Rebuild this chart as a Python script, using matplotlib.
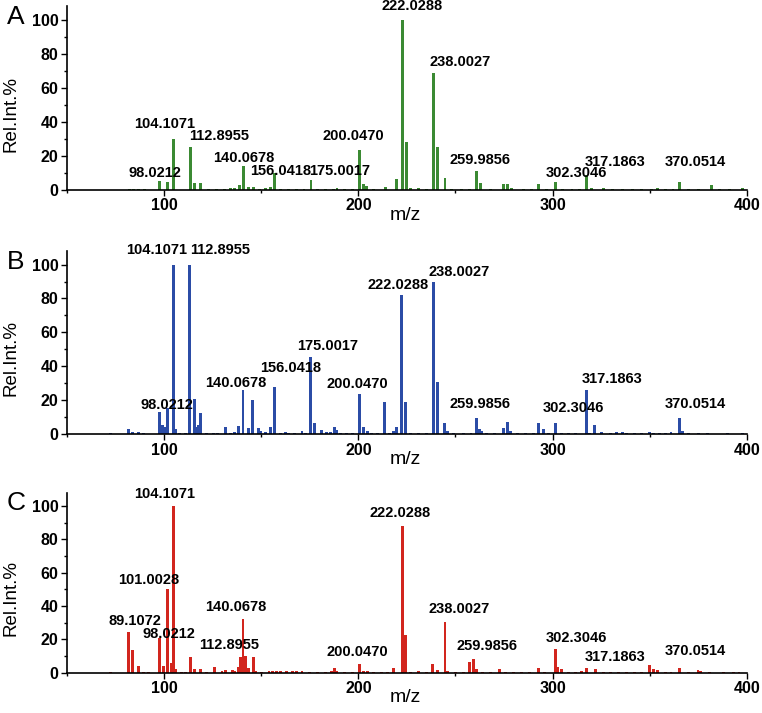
import matplotlib
matplotlib.use("Agg")
import matplotlib.pyplot as plt
from matplotlib.ticker import MultipleLocator

plt.rcParams["font.family"] = ["Liberation Sans", "DejaVu Sans"]

# ─── Data (m/z, relative intensity %) ─────────────────────────────────────────

mz_a = [82, 84, 87, 90, 97.8, 101.9, 104.8, 113.5, 115.8, 118.9, 123, 127, 131,
        134, 136, 138.7, 140.8, 143.5, 146, 149, 152, 154.6, 156.9, 160, 164,
        168, 172, 175.6, 179, 183, 187, 189, 193, 197, 200.6, 202.8, 204, 208,
        213.8, 219.5, 222.7, 224.6, 227, 231, 235, 238.7, 240.7, 244.6, 248,
        253, 257, 260.6, 262.8, 268, 274.8, 276.9, 279, 285, 289, 292.8, 297,
        301.7, 305, 310, 314, 317.6, 320, 326, 331, 336, 341, 346, 351, 354,
        358, 362, 365.6, 370, 375, 381.7, 386, 391, 398]
int_a = [0.5, 0.4, 0.5, 0.4, 5.3, 4.5, 29.7, 25.0, 4.0, 4.0, 0.5, 0.6, 0.8,
         1.0, 1.2, 2.8, 14.1, 1.5, 1.6, 0.8, 1.0, 1.5, 9.8, 0.5, 0.5,
         0.6, 0.5, 6.0, 0.5, 0.4, 0.8, 1.0, 0.5, 0.5, 23.4, 3.7, 2.5, 0.6,
         2.0, 6.3, 100.0, 27.9, 1.0, 1.0, 0.5, 68.8, 25.3, 6.9, 0.5,
         0.4, 0.5, 11.4, 3.9, 0.5, 3.5, 3.5, 1.0, 0.5, 0.6, 3.3, 0.5,
         4.5, 0.8, 0.5, 0.6, 8.6, 1.0, 1.0, 0.6, 0.8, 0.7, 0.6, 0.8, 1.0,
         0.7, 0.6, 4.5, 0.6, 0.5, 3.0, 0.4, 0.5, 1.0]

mz_b = [72.4, 81.5, 83.5, 86.6, 89.5, 97.6, 99.3, 100.3, 101.7, 104.6, 105.8,
        108, 111, 113.2, 115.6, 116.6, 117.8, 118.7, 122, 125.5, 127.5, 131.5,
        134, 136, 138.4, 140.6, 143.5, 145.4, 148.7, 149.8, 152, 154.7, 156.7,
        160, 162.4, 164, 167, 171, 173, 175.2, 177.5, 181.2, 183.5, 185.5,
        187.6, 189, 191, 194, 197, 200.6, 202.7, 204.7, 207, 210, 213.3, 216,
        218, 219.5, 222.4, 224.1, 227, 231, 235, 238.7, 240.7, 244.3, 246,
        249, 254, 258, 260.6, 262.6, 263.5, 266, 270, 274.9, 276.6, 278.5,
        282, 286, 290, 292.7, 295.4, 298, 301.6, 304.6, 308, 312, 317.5, 319,
        321.5, 325.3, 330, 333, 336, 338, 342, 346, 350, 352, 355, 358, 361,
        365.5, 367, 370, 375, 380, 385, 390, 398]
int_b = [0.5, 2.8, 1.5, 1.5, 0.8, 13.0, 5.3, 4.0, 15.7, 100.0, 2.8,
         0.5, 0.5, 100.0, 21.0, 4.0, 5.5, 12.6, 0.5, 1.0, 0.8, 4.0,
         1.0, 1.2, 5.0, 26.0, 3.5, 20.0, 3.5, 2.0, 1.5, 4.0, 27.6,
         0.5, 1.5, 1.0, 1.0, 2.0, 1.0, 45.7, 6.9, 2.4, 1.5, 1.2,
         4.0, 2.5, 1.0, 0.5, 0.5, 23.6, 4.0, 2.0, 0.8, 0.5, 18.7, 0.8,
         2.0, 4.5, 82.0, 19.1, 0.5, 1.0, 0.5, 90.0, 31.0, 6.9, 2.0,
         0.5, 0.5, 1.0, 9.8, 3.3, 2.0, 0.5, 0.5, 3.5, 7.3, 2.0,
         0.5, 0.5, 0.6, 6.9, 3.3, 0.5, 6.7, 1.0, 0.5, 0.5, 26.0, 1.0,
         5.3, 1.5, 0.6, 1.2, 1.2, 0.8, 0.6, 0.6, 1.2, 1.0, 1.0, 0.6, 1.5,
         9.3, 2.0, 0.6, 0.5, 0.5, 0.4, 0.5, 1.0]

mz_c = [72.4, 81.7, 83.5, 86.6, 89.5, 92, 97.6, 99.8, 101.5, 103.6, 104.8,
        105.8, 109, 111, 113.5, 115.8, 118.9, 122, 125.7, 129.8, 131.8, 135.2,
        136.5, 138.4, 139.4, 140.6, 142, 143.5, 145.8, 147, 150, 154, 156,
        158, 160, 163, 166, 168, 171, 175, 179, 183, 186, 187.7, 189, 193,
        197, 200.6, 202.8, 204.5, 208, 212, 215, 218.2, 222.6, 224.5, 227,
        231, 235, 238.3, 240.7, 244.6, 246, 250, 254, 257.2, 259.3, 260.7,
        264, 268, 272.9, 276, 280, 284, 288, 292.8, 296, 301.4, 302.8, 304.8,
        308, 312, 315, 317.6, 321.9, 326, 330, 334, 338, 342, 346, 349.8,
        351.9, 354.1, 358, 361, 365.5, 370, 374.9, 376, 381, 388, 393, 396]
int_c = [0.5, 24.4, 13.5, 4.0, 0.5, 0.5, 20.6, 4.0, 50.2, 6.0, 100.0,
         2.4, 0.4, 0.6, 9.3, 2.0, 2.2, 0.4, 3.2, 1.2, 1.5, 1.5,
         1.2, 3.4, 9.5, 32.0, 10.3, 2.6, 9.3, 1.0, 0.4, 1.2, 1.2,
         1.0, 0.8, 0.8, 1.0, 0.8, 0.8, 0.6, 0.6, 0.6, 1.0, 3.0, 1.0, 0.5,
         0.5, 5.2, 1.2, 1.0, 0.6, 0.5, 0.5, 2.6, 88.3, 22.4, 0.5,
         1.0, 0.4, 5.2, 1.5, 30.6, 1.0, 0.5, 0.4, 6.3, 8.5, 2.0,
         0.5, 0.4, 2.0, 0.6, 0.5, 0.6, 0.5, 3.0, 0.5, 14.1, 3.4, 2.0,
         0.5, 0.5, 0.8, 2.6, 2.0, 0.5, 0.6, 0.6, 0.5, 0.5, 0.6, 4.6,
         2.0, 1.5, 0.7, 0.7, 3.0, 0.5, 1.5, 1.0, 0.5, 0.6, 0.5, 0.4]

# peak labels
labels_a = ["98.0212", "104.1071", "112.8955", "140.0678", "156.0418",
            "175.0017", "200.0470", "222.0288", "238.0027", "259.9856",
            "302.3046", "317.1863", "370.0514"]
labels_b = ["98.0212", "104.1071", "112.8955", "140.0678", "156.0418",
            "175.0017", "200.0470", "222.0288", "238.0027", "259.9856",
            "302.3046", "317.1863", "370.0514"]
labels_c = ["89.1072", "98.0212", "101.0028", "104.1071", "112.8955",
            "140.0678", "200.0470", "222.0288", "238.0027", "259.9856",
            "302.3046", "317.1863", "370.0514"]

# where each label sits (data coords, text centre)
label_pos_a = [(95.4, 9.8), (100.2, 38.7), (128.4, 31.8), (140.8, 19.0),
               (160.0, 11.2), (190.3, 11.2), (197.5, 31.8), (227.5, 108.3),
               (252.4, 75.0), (262.5, 17.7), (312.2, 9.8), (332.2, 16.5),
               (373.4, 16.5)]
label_pos_b = [(101.2, 17.1), (96.2, 108.3), (128.6, 108.3), (136.7, 30.3),
               (165.0, 38.8), (184.3, 52.0), (199.7, 29.5), (220.2, 88.0),
               (252.0, 95.9), (262.5, 18.1), (310.6, 15.7), (330.8, 32.5),
               (373.4, 17.7)]
label_pos_c = [(84.7, 30.8), (102.6, 23.4), (91.8, 55.8), (100.2, 107.0),
               (133.6, 16.5), (136.7, 39.7), (199.7, 12.5), (221.3, 95.8),
               (252.0, 38.3), (266.2, 16.1), (312.3, 21.0), (332.2, 9.5),
               (373.4, 12.9)]

# ─── Figure ───────────────────────────────────────────────────────────────────

fig = plt.figure(figsize=(7.62, 7.13), dpi=100)

panels = [
    ("A", mz_a, int_a, labels_a, label_pos_a, "#3b8a33", [0.088, 0.7335, 0.892, 0.258]),
    ("B", mz_b, int_b, labels_b, label_pos_b, "#2b4ca6", [0.088, 0.391, 0.892, 0.257]),
    ("C", mz_c, int_c, labels_c, label_pos_c, "#d2261e", [0.088, 0.0565, 0.892, 0.2525]),
]

for letter, mz, inten, labels, pos, color, rect in panels:
    ax = fig.add_axes(rect)
    ax.bar(mz, inten, width=1.5, color=color, linewidth=0)

    for text, (x, y) in zip(labels, pos):
        ax.text(x, y, text, ha="center", va="center", fontsize=10.5,
                fontweight="bold", clip_on=False)

    ax.set_xlim(50, 400)
    ax.set_ylim(0, 108)
    ax.xaxis.set_major_locator(MultipleLocator(100))
    ax.xaxis.set_minor_locator(MultipleLocator(50))
    ax.yaxis.set_major_locator(MultipleLocator(20))
    ax.yaxis.set_minor_locator(MultipleLocator(10))
    ax.set_yticks([0, 20, 40, 60, 80, 100])
    ax.tick_params(which="major", direction="out", length=4, width=1,
                   labelsize=11.5, pad=2)
    ax.tick_params(which="minor", direction="out", length=2.5, width=1)
    for lab in ax.get_xticklabels() + ax.get_yticklabels():
        lab.set_fontweight("bold")

    for side in ("top", "right"):
        ax.spines[side].set_visible(False)
    for side in ("left", "bottom"):
        ax.spines[side].set_linewidth(1.2)

    ax.set_xlabel("m/z", fontsize=14)
    ax.xaxis.label.set_va("center")
    ax.xaxis.set_label_coords(0.498, -0.14)
    ax.set_ylabel("Rel.Int.%", fontsize=13.5)
    ax.yaxis.label.set_va("center")
    ax.yaxis.set_label_coords(-0.082, 0.415)

    ax.text(-0.075, 0.94, letter, transform=ax.transAxes, fontsize=19,
            ha="center", va="center")

fig.savefig("out.png", dpi=100)
